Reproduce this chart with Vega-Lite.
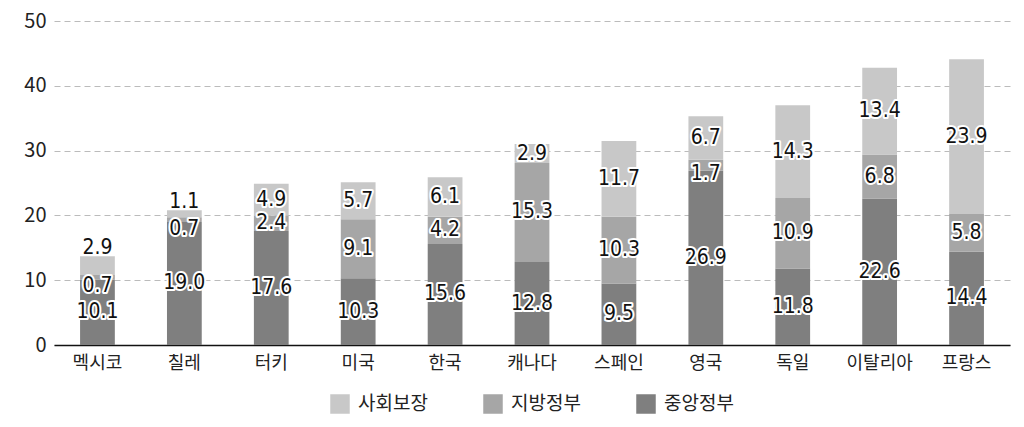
{
  "$schema": "https://vega.github.io/schema/vega-lite/v6.json",
  "width": 956,
  "height": 324,
  "autosize": {"type": "none"},
  "padding": {"left": 54, "top": 21, "right": 14, "bottom": 82},
  "background": "white",
  "config": {
    "view": {"stroke": null},
    "font": "Noto Sans CJK KR"
  },
  "data": {
    "values": [
      {"country": "멕시코", "category": "중앙정부", "value": 10.1},
      {"country": "멕시코", "category": "지방정부", "value": 0.7},
      {"country": "멕시코", "category": "사회보장", "value": 2.9},
      {"country": "칠레", "category": "중앙정부", "value": 19.0},
      {"country": "칠레", "category": "지방정부", "value": 0.7},
      {"country": "칠레", "category": "사회보장", "value": 1.1},
      {"country": "터키", "category": "중앙정부", "value": 17.6},
      {"country": "터키", "category": "지방정부", "value": 2.4},
      {"country": "터키", "category": "사회보장", "value": 4.9},
      {"country": "미국", "category": "중앙정부", "value": 10.3},
      {"country": "미국", "category": "지방정부", "value": 9.1},
      {"country": "미국", "category": "사회보장", "value": 5.7},
      {"country": "한국", "category": "중앙정부", "value": 15.6},
      {"country": "한국", "category": "지방정부", "value": 4.2},
      {"country": "한국", "category": "사회보장", "value": 6.1},
      {"country": "캐나다", "category": "중앙정부", "value": 12.8},
      {"country": "캐나다", "category": "지방정부", "value": 15.3},
      {"country": "캐나다", "category": "사회보장", "value": 2.9},
      {"country": "스페인", "category": "중앙정부", "value": 9.5},
      {"country": "스페인", "category": "지방정부", "value": 10.3},
      {"country": "스페인", "category": "사회보장", "value": 11.7},
      {"country": "영국", "category": "중앙정부", "value": 26.9},
      {"country": "영국", "category": "지방정부", "value": 1.7},
      {"country": "영국", "category": "사회보장", "value": 6.7},
      {"country": "독일", "category": "중앙정부", "value": 11.8},
      {"country": "독일", "category": "지방정부", "value": 10.9},
      {"country": "독일", "category": "사회보장", "value": 14.3},
      {"country": "이탈리아", "category": "중앙정부", "value": 22.6},
      {"country": "이탈리아", "category": "지방정부", "value": 6.8},
      {"country": "이탈리아", "category": "사회보장", "value": 13.4},
      {"country": "프랑스", "category": "중앙정부", "value": 14.4},
      {"country": "프랑스", "category": "지방정부", "value": 5.8},
      {"country": "프랑스", "category": "사회보장", "value": 23.9}
    ]
  },
  "transform": [
    {"calculate": "indexof(['중앙정부','지방정부','사회보장'], datum.category)", "as": "ord"},
    {"stack": "value", "groupby": ["country"], "sort": [{"field": "ord", "order": "ascending"}], "as": ["y0", "y1"]},
    {"calculate": "datum.category == '사회보장' && datum.value < 3 && datum.y0 < 22 ? datum.y1 + 1.3 : (datum.category == '지방정부' && datum.value < 2 ? (datum.y0 + datum.y1) / 2 - 1.4 : (datum.y0 + datum.y1) / 2)", "as": "labelY"}
  ],
  "encoding": {
    "x": {
      "field": "country",
      "type": "nominal",
      "sort": null,
      "scale": {"paddingInner": 0.6, "paddingOuter": 0.3},
      "axis": {
        "title": null,
        "labelAngle": 0,
        "labelFontSize": 18,
        "labelColor": "#222222",
        "labelPadding": 9,
        "ticks": false,
        "domainColor": "#111111",
        "domainWidth": 1.5
      }
    }
  },
  "layer": [
    {
      "mark": {"type": "bar"},
      "encoding": {
        "y": {
          "field": "y0",
          "type": "quantitative",
          "scale": {"domain": [0, 50], "nice": false},
          "axis": {
            "title": null,
            "values": [0, 10, 20, 30, 40, 50],
            "domain": false,
            "ticks": false,
            "labelFontSize": 20,
            "labelColor": "#222222",
            "labelPadding": 8,
            "gridColor": "#bbbbbb",
            "gridDash": [6, 4],
            "gridWidth": 1
          }
        },
        "y2": {"field": "y1"},
        "color": {
          "field": "category",
          "type": "nominal",
          "scale": {
            "domain": ["사회보장", "지방정부", "중앙정부"],
            "range": ["#c8c8c8", "#a6a6a6", "#7f7f7f"]
          },
          "legend": {
            "title": null,
            "orient": "none",
            "legendX": 276,
            "legendY": 373,
            "direction": "horizontal",
            "symbolType": "square",
            "symbolSize": 380,
            "symbolStrokeWidth": 0,
            "labelFontSize": 19,
            "labelColor": "#222222",
            "labelOffset": 8,
            "columnPadding": 55,
            "padding": 0
          }
        }
      }
    },
    {
      "mark": {
        "type": "text",
        "font": "DejaVu Sans Condensed, Roboto, sans-serif",
        "fontSize": 21,
        "stroke": "white",
        "strokeWidth": 4,
        "strokeJoin": "round",
        "fill": "white",
        "baseline": "middle"
      },
      "encoding": {
        "y": {"field": "labelY", "type": "quantitative"},
        "text": {"field": "value", "type": "quantitative", "format": ".1f"}
      }
    },
    {
      "mark": {
        "type": "text",
        "font": "DejaVu Sans Condensed, Roboto, sans-serif",
        "fontSize": 21,
        "fill": "#111111",
        "baseline": "middle"
      },
      "encoding": {
        "y": {"field": "labelY", "type": "quantitative"},
        "text": {"field": "value", "type": "quantitative", "format": ".1f"}
      }
    }
  ]
}
